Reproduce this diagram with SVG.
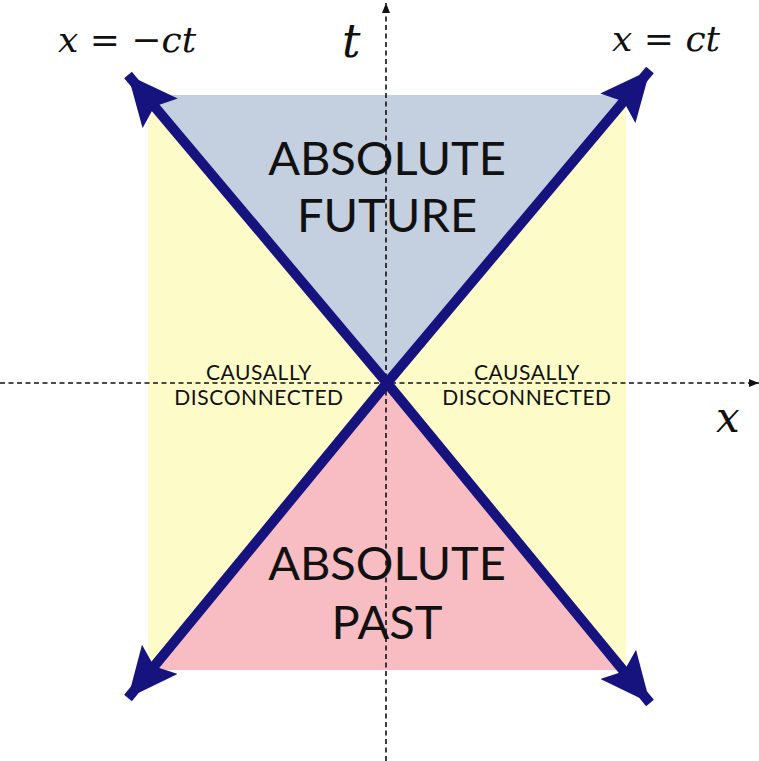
<svg xmlns="http://www.w3.org/2000/svg" width="759" height="761" viewBox="0 0 759 761">
<style>
.big{font-family:Lato,"Open Sans","Liberation Sans",sans-serif;font-size:47px;fill:#111;text-anchor:middle}
.small{font-family:Lato,"Open Sans","Liberation Sans",sans-serif;font-size:21px;letter-spacing:0.6px;fill:#111;text-anchor:middle}
.math{font-family:"DejaVu Serif","Liberation Serif",serif;font-style:italic;fill:#111}
.mathr{font-family:"DejaVu Serif","Liberation Serif",serif;fill:#111}
.axis{stroke:#111;stroke-width:1.6;stroke-dasharray:5 3.5;fill:none}
.cone{stroke:#16127e;stroke-width:10;fill:none;marker-end:url(#ah)}
</style>
<defs>
<marker id="ah" markerUnits="userSpaceOnUse" viewBox="0 0 50 46" refX="50" refY="23" markerWidth="50" markerHeight="46" orient="auto">
<path d="M0,0 L50,23 L0,46 L9,23 Z" fill="#16127e"/>
</marker>
<marker id="sa" markerUnits="userSpaceOnUse" viewBox="0 0 10 8" refX="10" refY="4" markerWidth="10" markerHeight="8" orient="auto">
<path d="M0,0 L10,4 L0,8 Z" fill="#111"/>
</marker>
</defs>
<rect width="759" height="761" fill="#fff"/>
<g id="regions">
<rect id="elsewhere" x="148" y="95" width="478" height="575" fill="#fdfcc8"/>
<polygon id="future" points="148,95 626,95 387,383" fill="#c4cfdf"/>
<polygon id="past" points="152,670 623,670 387,383" fill="#f8bdc2"/>
</g>
<g id="axes">
<line class="axis" x1="386" y1="761" x2="386" y2="3" marker-end="url(#sa)"/>
<line class="axis" x1="0" y1="383" x2="759" y2="383" marker-end="url(#sa)"/>
</g>
<g id="connectors">
<line class="cone" x1="387" y1="383" x2="128" y2="75"/>
<line class="cone" x1="387" y1="383" x2="650" y2="70"/>
<line class="cone" x1="387" y1="383" x2="128" y2="698"/>
<line class="cone" x1="387" y1="383" x2="650" y2="703"/>
</g>
<g id="labels">
<text class="big" x="387" y="175">ABSOLUTE</text>
<text class="big" x="387" y="232">FUTURE</text>
<text class="big" x="387" y="580">ABSOLUTE</text>
<text class="big" x="387" y="639">PAST</text>
<text class="small" x="259" y="380">CAUSALLY</text>
<text class="small" x="259" y="405">DISCONNECTED</text>
<text class="small" x="527" y="380">CAUSALLY</text>
<text class="small" x="527" y="405">DISCONNECTED</text>
<text x="58" y="52" font-size="36"><tspan class="math">x</tspan><tspan class="mathr"> = −</tspan><tspan class="math">ct</tspan></text>
<text x="612" y="51" font-size="36"><tspan class="math">x</tspan><tspan class="mathr"> = </tspan><tspan class="math">ct</tspan></text>
<text class="math" x="342" y="57" font-size="46">t</text>
<text class="math" x="716" y="432" font-size="42">x</text>
</g>
</svg>
